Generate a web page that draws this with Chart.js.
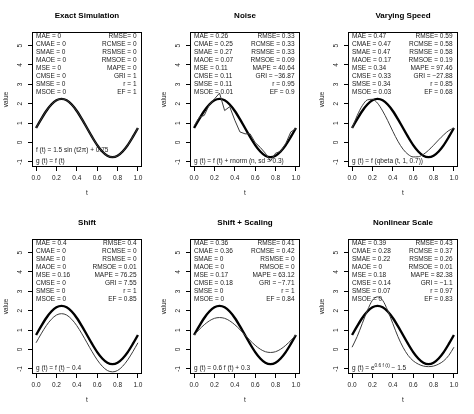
<!DOCTYPE html>
<html>
<head>
<meta charset="utf-8">
<script src="https://cdn.jsdelivr.net/npm/chart.js@4"></script>
<style>
  body { margin: 0; background: #fff; }
  #wrap { position: relative; width: 474px; height: 414px; }
  .cell { position: absolute; width: 158px; height: 207px; }
</style>
</head>
<body>
<div id="wrap"></div>
<script>
// sample points along t
const tGrid = [0, 0.05, 0.1, 0.15, 0.2, 0.25, 0.3, 0.35, 0.4, 0.45, 0.5, 0.55, 0.6, 0.65, 0.7, 0.75, 0.8, 0.85, 0.9, 0.95, 1];

// reference curve f(t)
const fVals = [0.75, 1.21, 1.63, 1.96, 2.18, 2.25, 2.18, 1.96, 1.63, 1.21, 0.75, 0.29, -0.13, -0.46, -0.68, -0.75, -0.68, -0.46, -0.13, 0.29, 0.75];

// simulated curves g(t)
const exactVals = [0.75, 1.21, 1.63, 1.96, 2.18, 2.25, 2.18, 1.96, 1.63, 1.21, 0.75, 0.29, -0.13, -0.46, -0.68, -0.75, -0.68, -0.46, -0.13, 0.29, 0.75];
const noiseVals = [0.85, 1.3, 1.4, 1.95, 2.25, 2.55, 1.65, 1.85, 1.15, 0.55, 0.45, 0.45, 0.0, -0.25, -0.55, -0.95, -0.55, -0.45, -0.05, 0.55, 0.72];
const speedVals = [0.75, 1.39, 1.9, 2.2, 2.23, 2.03, 1.63, 1.13, 0.58, 0.07, -0.34, -0.61, -0.74, -0.73, -0.61, -0.4, -0.14, 0.14, 0.4, 0.62, 0.75];
const shiftVals = [0.35, 0.81, 1.23, 1.56, 1.78, 1.85, 1.78, 1.56, 1.23, 0.81, 0.35, -0.11, -0.53, -0.86, -1.08, -1.15, -1.08, -0.86, -0.53, -0.11, 0.35];
const scaledVals = [0.75, 1.03, 1.28, 1.48, 1.61, 1.65, 1.61, 1.48, 1.28, 1.03, 0.75, 0.47, 0.22, 0.02, -0.11, -0.15, -0.11, 0.02, 0.22, 0.47, 0.75];
const nonlinVals = [0.12, 0.67, 1.34, 2.01, 2.54, 2.72, 2.54, 2.01, 1.34, 0.67, 0.12, -0.3, -0.58, -0.75, -0.85, -0.88, -0.85, -0.75, -0.58, -0.3, 0.12];

const xTicks = [0, 0.2, 0.4, 0.6, 0.8, 1];
const yTicks = [-1, 0, 1, 2, 3, 4, 5];

const titles = ["Exact Simulation", "Noise", "Varying Speed", "Shift", "Shift + Scaling", "Nonlinear Scale"];
const gSeries = [exactVals, noiseVals, speedVals, shiftVals, scaledVals, nonlinVals];
const smoothFlags = [true, false, true, true, true, true];

const leftNames = ["MAE", "CMAE", "SMAE", "MAOE", "MSE", "CMSE", "SMSE", "MSOE"];
const rightNames = ["RMSE", "RCMSE", "RSMSE", "RMSOE", "MAPE", "GRI", "r", "EF"];

const leftValues = [
  ["0", "0", "0", "0", "0", "0", "0", "0"],
  ["0.26", "0.25", "0.27", "0.07", "0.11", "0.11", "0.11", "0.01"],
  ["0.47", "0.47", "0.47", "0.17", "0.34", "0.33", "0.34", "0.03"],
  ["0.4", "0", "0", "0", "0.16", "0", "0", "0"],
  ["0.36", "0.36", "0", "0", "0.17", "0.18", "0", "0"],
  ["0.39", "0.28", "0.22", "0", "0.18", "0.14", "0.07", "0"],
];
const rightValues = [
  ["0", "0", "0", "0", "0", "1", "1", "1"],
  ["0.33", "0.33", "0.33", "0.09", "40.64", "\u221236.87", "0.95", "0.9"],
  ["0.59", "0.58", "0.58", "0.19", "97.46", "\u221227.88", "0.85", "0.68"],
  ["0.4", "0", "0", "0.01", "76.25", "7.55", "1", "0.85"],
  ["0.41", "0.42", "0", "0", "63.12", "\u22127.71", "1", "0.84"],
  ["0.43", "0.37", "0.26", "0.01", "82.38", "\u22121.1", "0.97", "0.83"],
];

// formula lines at the bottom of each panel; sup = superscript piece
const formulas = [
  [[{ t: "f (t) = 1.5 sin (t2\u03c0) + 0.75" }], [{ t: "g (t) = f (t)" }]],
  [[{ t: "g (t) = f (t) + rnorm (n, sd = 0.3)" }]],
  [[{ t: "g (t) = f (qbeta (t, 1, 0.7))" }]],
  [[{ t: "g (t) = f (t) \u2212 0.4" }]],
  [[{ t: "g (t) = 0.6 f (t) + 0.3" }]],
  [[{ t: "g (t) = e" }, { t: "0.6 f (t)", sup: true }, { t: " \u2212 1.5" }]],
];

const FONT = '"Liberation Sans", Arial, Helvetica, sans-serif';
const INK = "#1a1a1a";

function pts(vals) {
  return tGrid.map((t, i) => ({ x: t, y: vals[i] }));
}

const panelText = {
  id: "panelText",
  afterDraw(chart, args, opts) {
    const ctx = chart.ctx;
    const a = chart.chartArea;
    const i = opts.index;
    ctx.save();
    // box
    ctx.strokeStyle = "#000";
    ctx.lineWidth = 1;
    ctx.strokeRect(a.left + 0.5, a.top + 0.5, a.right - a.left - 1, a.bottom - a.top - 1);
    // title
    ctx.fillStyle = "#000";
    ctx.font = "bold 8px " + FONT;
    ctx.textAlign = "center";
    ctx.textBaseline = "middle";
    ctx.fillText(titles[i], (a.left + a.right) / 2, 16);
    // metrics
    ctx.fillStyle = INK;
    ctx.font = "6.5px " + FONT;
    for (let k = 0; k < leftNames.length; k++) {
      const y = a.top + 3.8 + k * 8;
      ctx.textAlign = "left";
      ctx.fillText(leftNames[k] + " = " + leftValues[i][k], a.left + 4, y);
      ctx.textAlign = "right";
      const sep = rightNames[k] === "RMSE" ? "= " : " = ";
      ctx.fillText(rightNames[k] + sep + rightValues[i][k], a.right - 5.5, y);
    }
    // formulas
    ctx.textAlign = "left";
    const lines = formulas[i];
    lines.forEach((line, li) => {
      const y = a.bottom - 6 - (lines.length - 1 - li) * 10.5;
      let x = a.left + 4;
      line.forEach((seg) => {
        if (seg.sup) {
          ctx.font = "4.8px " + FONT;
          ctx.fillText(seg.t, x, y - 2.6);
        } else {
          ctx.font = "6.5px " + FONT;
          ctx.fillText(seg.t, x, y);
        }
        x += ctx.measureText(seg.t).width;
      });
    });
    ctx.restore();
  },
};

const wrap = document.getElementById("wrap");

titles.forEach((title, i) => {
  const cell = document.createElement("div");
  cell.className = "cell";
  cell.style.left = (i % 3) * 158 + "px";
  cell.style.top = Math.floor(i / 3) * 207 + "px";
  const cv = document.createElement("canvas");
  cv.width = 158;
  cv.height = 207;
  cell.appendChild(cv);
  wrap.appendChild(cell);

  new Chart(cv, {
    type: "line",
    data: {
      datasets: [
        {
          label: "g",
          data: pts(gSeries[i]),
          borderColor: "#3c3c3c",
          borderWidth: 1,
          pointRadius: 0,
          tension: smoothFlags[i] ? 0.4 : 0,
          cubicInterpolationMode: smoothFlags[i] ? "monotone" : "default",
          fill: false,
        },
        {
          label: "f",
          data: pts(fVals),
          borderColor: "#000",
          borderWidth: 2.4,
          pointRadius: 0,
          tension: 0.4,
          cubicInterpolationMode: "monotone",
          fill: false,
        },
      ],
    },
    options: {
      responsive: false,
      animation: false,
      devicePixelRatio: 1,
      layout: { padding: { top: 32, right: 16, left: 0, bottom: 0 } },
      plugins: {
        legend: { display: false },
        tooltip: { enabled: false },
        panelText: { index: i },
      },
      scales: {
        x: {
          type: "linear",
          min: -0.04,
          max: 1.04,
          afterBuildTicks: (s) => { s.ticks = xTicks.map((v) => ({ value: v })); },
          afterFit: (s) => { s.height = 40; },
          grid: { drawOnChartArea: false, drawTicks: true, tickLength: 4, color: "#000" },
          border: { display: false },
          ticks: {
            font: { family: FONT, size: 6.5 },
            color: INK,
            padding: 3,
            maxRotation: 0,
            autoSkip: false,
            callback: (v) => Number(v).toFixed(1),
          },
          title: { display: true, text: "t", font: { family: FONT, size: 6.5 }, color: INK, padding: { top: 0, bottom: 10 } },
        },
        y: {
          type: "linear",
          min: -1.26,
          max: 5.7,
          afterBuildTicks: (s) => { s.ticks = yTicks.map((v) => ({ value: v })); },
          afterFit: (s) => { s.width = 32; },
          grid: { drawOnChartArea: false, drawTicks: true, tickLength: 4, color: "#000" },
          border: { display: false },
          ticks: {
            font: { family: FONT, size: 6.5 },
            color: INK,
            padding: 5,
            minRotation: 90,
            maxRotation: 90,
            crossAlign: "center",
            autoSkip: false,
            callback: (v) => String(v),
          },
          title: { display: true, text: "value", font: { family: FONT, size: 6.5 }, color: INK, padding: { top: 2, bottom: 0 } },
        },
      },
    },
    plugins: [panelText],
  });
});
</script>
</body>
</html>
